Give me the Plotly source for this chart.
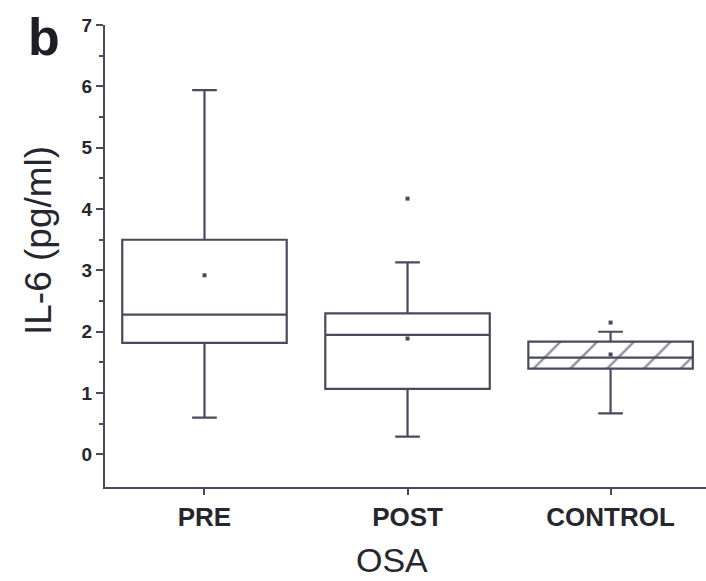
import plotly.graph_objects as go

# Group labels
groups = ["PRE", "POST", "CONTROL"]

# Box summary statistics for IL-6 (pg/ml)
q1 = [1.82, 1.07, 1.40]
median = [2.28, 1.95, 1.58]
q3 = [3.50, 2.30, 1.84]
lower_whisker = [0.60, 0.29, 0.67]
upper_whisker = [5.94, 3.13, 2.00]
means = [2.92, 1.89, 1.63]

# Points beyond the whiskers
outlier_groups = ["POST", "CONTROL"]
outlier_values = [4.17, 2.15]

# Group drawn with a hatched box
hatched_group = "CONTROL"

ink = "#4a4a5e"
text_col = "#26262e"
font_family = "Liberation Sans, Arial, sans-serif"

fig = go.Figure()

# Hatched fill for the control box
hi = groups.index(hatched_group)
fig.add_trace(go.Bar(
    x=[hatched_group],
    base=[q1[hi]],
    y=[q3[hi] - q1[hi]],
    width=0.82,
    marker=dict(
        color="white",
        line=dict(width=0),
        pattern=dict(shape="/", fgcolor="#2e2e40", bgcolor="white", size=26, solidity=0.1),
    ),
    hoverinfo="skip",
    showlegend=False,
))

# Box-and-whisker traces
for i, g in enumerate(groups):
    fig.add_trace(go.Box(
        x=[g],
        q1=[q1[i]],
        median=[median[i]],
        q3=[q3[i]],
        lowerfence=[lower_whisker[i]],
        upperfence=[upper_whisker[i]],
        width=0.81,
        whiskerwidth=0.15,
        fillcolor="rgba(0,0,0,0)",
        line=dict(color=ink, width=2.2),
        boxpoints=False,
        showlegend=False,
    ))

# Mean markers
fig.add_trace(go.Scatter(
    x=groups, y=means, mode="markers",
    marker=dict(symbol="square", size=4, color=ink),
    showlegend=False,
))

# Outlying observations
fig.add_trace(go.Scatter(
    x=outlier_groups, y=outlier_values, mode="markers",
    marker=dict(symbol="square", size=4, color=ink),
    showlegend=False,
))

fig.update_layout(
    width=706, height=581,
    margin=dict(l=105, r=0, t=25, b=94),
    paper_bgcolor="white", plot_bgcolor="white",
    boxmode="overlay", barmode="overlay",
    font=dict(family=font_family, color=text_col),
    showlegend=False,
)

fig.update_xaxes(
    type="category",
    categoryorder="array", categoryarray=groups,
    range=[-0.49, 2.47],
    showline=True, linecolor=ink, linewidth=2,
    ticks="outside", ticklen=6, tickwidth=1.5, tickcolor=ink,
    showgrid=False, zeroline=False,
    tickfont=dict(size=26, color=text_col, family=font_family, weight="bold"),
)

fig.update_yaxes(
    range=[-0.53, 7],
    tickvals=[0, 1, 2, 3, 4, 5, 6, 7],
    showline=True, linecolor=ink, linewidth=2,
    ticks="outside", ticklen=7, tickwidth=1.5, tickcolor=ink,
    minor=dict(tickvals=[0.5, 1.5, 2.5, 3.5, 4.5, 5.5, 6.5], ticks="outside",
               ticklen=4, tickwidth=1.5, tickcolor=ink),
    showgrid=False, zeroline=False,
    tickfont=dict(size=19, color=text_col, family=font_family, weight="bold"),
)

fig.add_annotation(
    text="IL-6 (pg/ml)", textangle=-90,
    xref="paper", yref="paper", x=0, y=0.5, xshift=-67, yshift=15,
    xanchor="center", yanchor="middle", showarrow=False,
    font=dict(size=37, color=text_col, family=font_family),
)
fig.add_annotation(
    text="OSA",
    xref="paper", yref="paper", x=0.4775, y=0, yshift=-73,
    xanchor="center", yanchor="middle", showarrow=False,
    font=dict(size=34, color=text_col, family=font_family),
)
fig.add_annotation(
    text="b",
    xref="paper", yref="paper", x=0, y=1, xshift=-61, yshift=-12,
    xanchor="center", yanchor="middle", showarrow=False,
    font=dict(size=52, color="#1e1e24", family=font_family, weight="bold"),
)

fig.write_html("out.html")
